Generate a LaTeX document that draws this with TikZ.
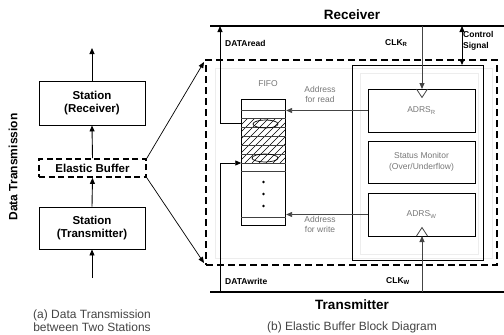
\documentclass[tikz,border=0pt]{standalone}
\usepackage{fontspec}
\setmainfont{Liberation Sans}
\usetikzlibrary{arrows.meta}
\definecolor{txtgray}{HTML}{777777}
\definecolor{capgray}{HTML}{444444}
\definecolor{lngray}{HTML}{444444}
\begin{document}
\begin{tikzpicture}[x=1pt,y=-1pt,
  arr/.style={-{Triangle[length=6pt,width=5pt]}},
  lbox/.style={draw, line width=0.9pt, inner sep=0pt, align=center, font=\bfseries\fontsize{11.5}{13}\selectfont},
  ebox/.style={draw, line width=1.8pt, dash pattern=on 6pt off 3.5pt, inner sep=0pt, font=\bfseries\fontsize{11.5}{13}\selectfont},
  sbox/.style={draw, line width=0.9pt, inner sep=0pt, align=center, text=txtgray, font=\fontsize{8.5}{11}\selectfont},
  glabel/.style={text=txtgray, align=center, inner sep=0pt, font=\fontsize{8.5}{9.5}\selectfont},
  blabel/.style={inner sep=0pt, align=left, anchor=west, font=\bfseries\fontsize{8.5}{11.5}\selectfont},
  bigtitle/.style={inner sep=0pt, font=\bfseries\fontsize{13.5}{15}\selectfont},
  caption/.style={inner sep=0pt, align=center, text=capgray, font=\fontsize{12}{13.5}\selectfont}
]
\useasboundingbox (0,0) rectangle (504,335);

% ---------------- (a) left part ----------------
\node[rotate=90, inner sep=0pt, font=\bfseries\fontsize{12}{14}\selectfont] (dt) at (13,167) {Data Transmission};
\node[lbox, minimum width=106pt, minimum height=44pt] (rx) at (92,103) {Station\\(Receiver)};
\node[ebox, minimum width=107pt, minimum height=18pt] (eb) at (92.5,168) {Elastic Buffer};
\node[lbox, minimum width=106pt, minimum height=42pt] (tx) at (92,228) {Station\\(Transmitter)};
\coordinate (rtop) at (92,48);
\coordinate (tbot) at (92,278);
\draw[arr, line width=0.9pt] (rx.north) -- (rtop);
\draw[arr, line width=0.9pt] (eb.north) -- (rx.south);
\draw[arr, line width=0.9pt] (tx.north) -- (eb.south);
\draw[arr, line width=0.9pt] (tbot) -- (tx.south);
\node[caption, anchor=south] (capa) at (92,332) {(a) Data Transmission\\between Two Stations};

% links to detailed diagram
\coordinate (zt) at (204,62);
\coordinate (zb) at (204,263);
\draw[arr, line width=0.7pt] (eb.north east) -- (zt);
\draw[arr, line width=0.7pt] (eb.south east) -- (zb);

% ---------------- (b) right part ----------------
\node[bigtitle] (rcv) at (352,15) {Receiver};
\coordinate (rl) at (210,26);
\coordinate (rr) at (504,26);
\draw[line width=1.2pt] (rl) -- (rr);

\node[bigtitle] (trm) at (352,305) {Transmitter};
\coordinate (tl) at (210,292);
\coordinate (tr) at (504,292);
\draw[line width=1.2pt] (tl) -- (tr);

\node[caption] (capb) at (352,327) {(b) Elastic Buffer Block Diagram};

% faint inner frames
\draw[black!7, line width=0.6pt] (215,68) rectangle (492,258);
\draw[black!7, line width=0.6pt] (360,73) rectangle (478,254);

% outer dashed frame
\node[draw, line width=1.6pt, dash pattern=on 7pt off 4pt, minimum width=291pt, minimum height=205pt, inner sep=0pt] (frame) at (351.5,162.5) {};

% inner block
\node[draw, line width=0.9pt, minimum width=131pt, minimum height=195pt, inner sep=0pt] (blk) at (417.5,162.5) {};
\node[sbox, minimum width=107pt, minimum height=43pt] (adrsr) at (421.5,110.5) {ADRS\textsubscript{R}};
\node[sbox, minimum width=107pt, minimum height=42pt] (stat) at (421.5,162) {Status Monitor\\(Over/Underflow)};
\node[sbox, minimum width=107pt, minimum height=43pt] (adrsw) at (421.5,214.5) {ADRS\textsubscript{W}};

% clock symbols
\draw[line width=0.8pt, lngray] (416.5,89) -- (422,97.5) -- (427.5,89);
\draw[line width=0.8pt, lngray] (416.5,236) -- (422,227.5) -- (427.5,236);
\coordinate (cr0) at (422,26);
\coordinate (cr1) at (422,89);
\coordinate (cw0) at (422,292);
\coordinate (cw1) at (422,236);
\draw[arr, line width=0.9pt, lngray] (cr0) -- (cr1);
\draw[arr, line width=0.9pt, lngray] (cw0) -- (cw1);
\node[blabel] (clkr) at (385,43) {CLK\textsubscript{R}};
\node[blabel] (clkw) at (386,281) {CLK\textsubscript{W}};

% control signal
\coordinate (cs0) at (462,26);
\coordinate (cs1) at (462,65);
\draw[{Triangle[length=6pt,width=5pt]}-{Triangle[length=6pt,width=5pt]}, line width=0.9pt] (cs0) -- (cs1);
\node[blabel, font=\bfseries\fontsize{8.5}{11}\selectfont] (ctrl) at (463,41) {Control\\Signal};

% FIFO
\node[glabel] (fifol) at (268,84) {FIFO};
\node[draw, line width=0.8pt, minimum width=44.5pt, minimum height=126pt, inner sep=0pt] (fifo) at (263.5,162) {};
\begin{scope}
  \clip (241.25,118) rectangle (285.75,163);
  \foreach \x in {196,203,...,290} {
    \draw[line width=0.6pt] (\x,163) -- (\x+45,118);
  }
\end{scope}
\foreach \y in {110,118,127,136,145,154,163,171,217} {
  \draw[line width=0.7pt, black!75] (241.25,\y) -- (285.75,\y);
}
\draw[line width=0.7pt] (265.5,124) ellipse [x radius=12.5pt, y radius=4pt];
\draw[line width=0.7pt] (265,158) ellipse [x radius=13pt, y radius=4pt];
\foreach \y in {182,194,206} {
  \fill (263.5,\y) circle (1.4pt);
}

% address arrows
\draw[arr, line width=0.9pt, lngray] (adrsr.west) -- (fifo.east |- adrsr.west);
\draw[arr, line width=0.9pt, lngray] (adrsw.west) -- (fifo.east |- adrsw.west);
\node[glabel] (ardl) at (320,94.5) {Address\\for read};
\node[glabel] (awrl) at (320,224.5) {Address\\for write};

% data read / write
\coordinate (dr0) at (241.25,123);
\coordinate (dr1) at (220,26);
\draw[arr, line width=0.9pt] (dr0) -| (dr1);
\node[blabel] (drl) at (225,43) {DATAread};
\coordinate (dw0) at (220,292);
\coordinate (dw1) at (241.25,163);
\draw[arr, line width=0.9pt] (dw0) |- (dw1);
\node[blabel] (dwl) at (225,281) {DATAwrite};
\end{tikzpicture}
\end{document}
